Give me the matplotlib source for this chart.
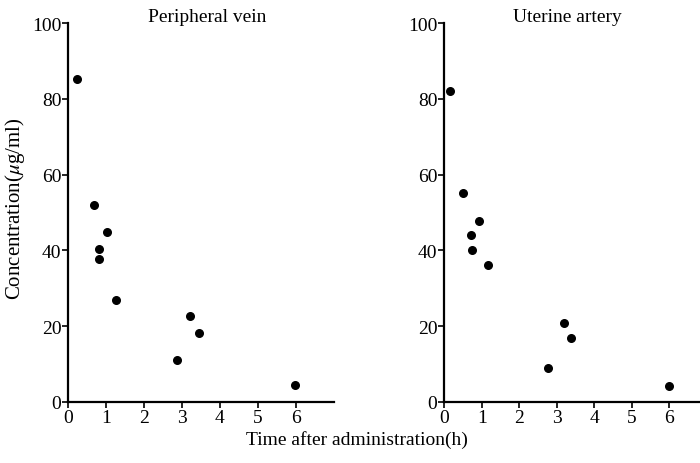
import matplotlib
matplotlib.use("Agg")
import matplotlib.pyplot as plt

plt.rcParams['font.family'] = ['Liberation Serif', 'DejaVu Serif']
plt.rcParams['mathtext.fontset'] = 'stix'

vein_t = [0.22, 0.69, 1.03, 0.82, 0.81, 1.27, 3.21, 3.45, 2.86, 5.97]
vein_c = [85.3, 52.1, 44.9, 40.3, 37.7, 26.9, 22.6, 18.1, 10.9, 4.4]
artery_t = [0.15, 0.50, 0.93, 0.71, 0.74, 1.17, 3.18, 3.39, 2.76, 6.0]
artery_c = [82.1, 55.2, 47.7, 44.0, 40.1, 36.2, 20.9, 16.8, 8.8, 4.2]
titles = ["Peripheral vein", "Uterine artery"]
xticks = [0, 1, 2, 3, 4, 5, 6]
yticks = [0, 20, 40, 60, 80, 100]

fig = plt.figure(figsize=(7, 4.64), dpi=100)
ax1 = fig.add_axes([0.0976, 0.1321, 0.3790, 0.8155])
ax2 = fig.add_axes([0.6347, 0.1321, 0.3750, 0.8155])

for ax, t, c in [(ax1, vein_t, vein_c), (ax2, artery_t, artery_c)]:
    ax.scatter(t, c, s=30, color='black', zorder=3, clip_on=False)
    ax.set_xlim(0, 7)
    ax.set_ylim(0, 100)
    ax.set_xticks(xticks)
    ax.set_yticks(yticks)
    for s in ['top', 'right']:
        ax.spines[s].set_visible(False)
    for s in ['left', 'bottom']:
        ax.spines[s].set_linewidth(1.6)
    ax.tick_params(direction='out', length=4, width=1.2, labelsize=14, pad=1)

fig.text(207 / 700, 1 - 18 / 464, titles[0], ha='center', va='center', fontsize=14)
fig.text(567 / 700, 1 - 18 / 464, titles[1], ha='center', va='center', fontsize=14)
fig.text(15 / 700, 1 - 209 / 464, "Concentration($\\mu$g/ml)", ha='center', va='center',
         rotation=90, fontsize=15)
fig.text(357 / 700, 1 - 440 / 464, "Time after administration(h)", ha='center', va='center',
         fontsize=14)

fig.savefig("out.png", dpi=100)
